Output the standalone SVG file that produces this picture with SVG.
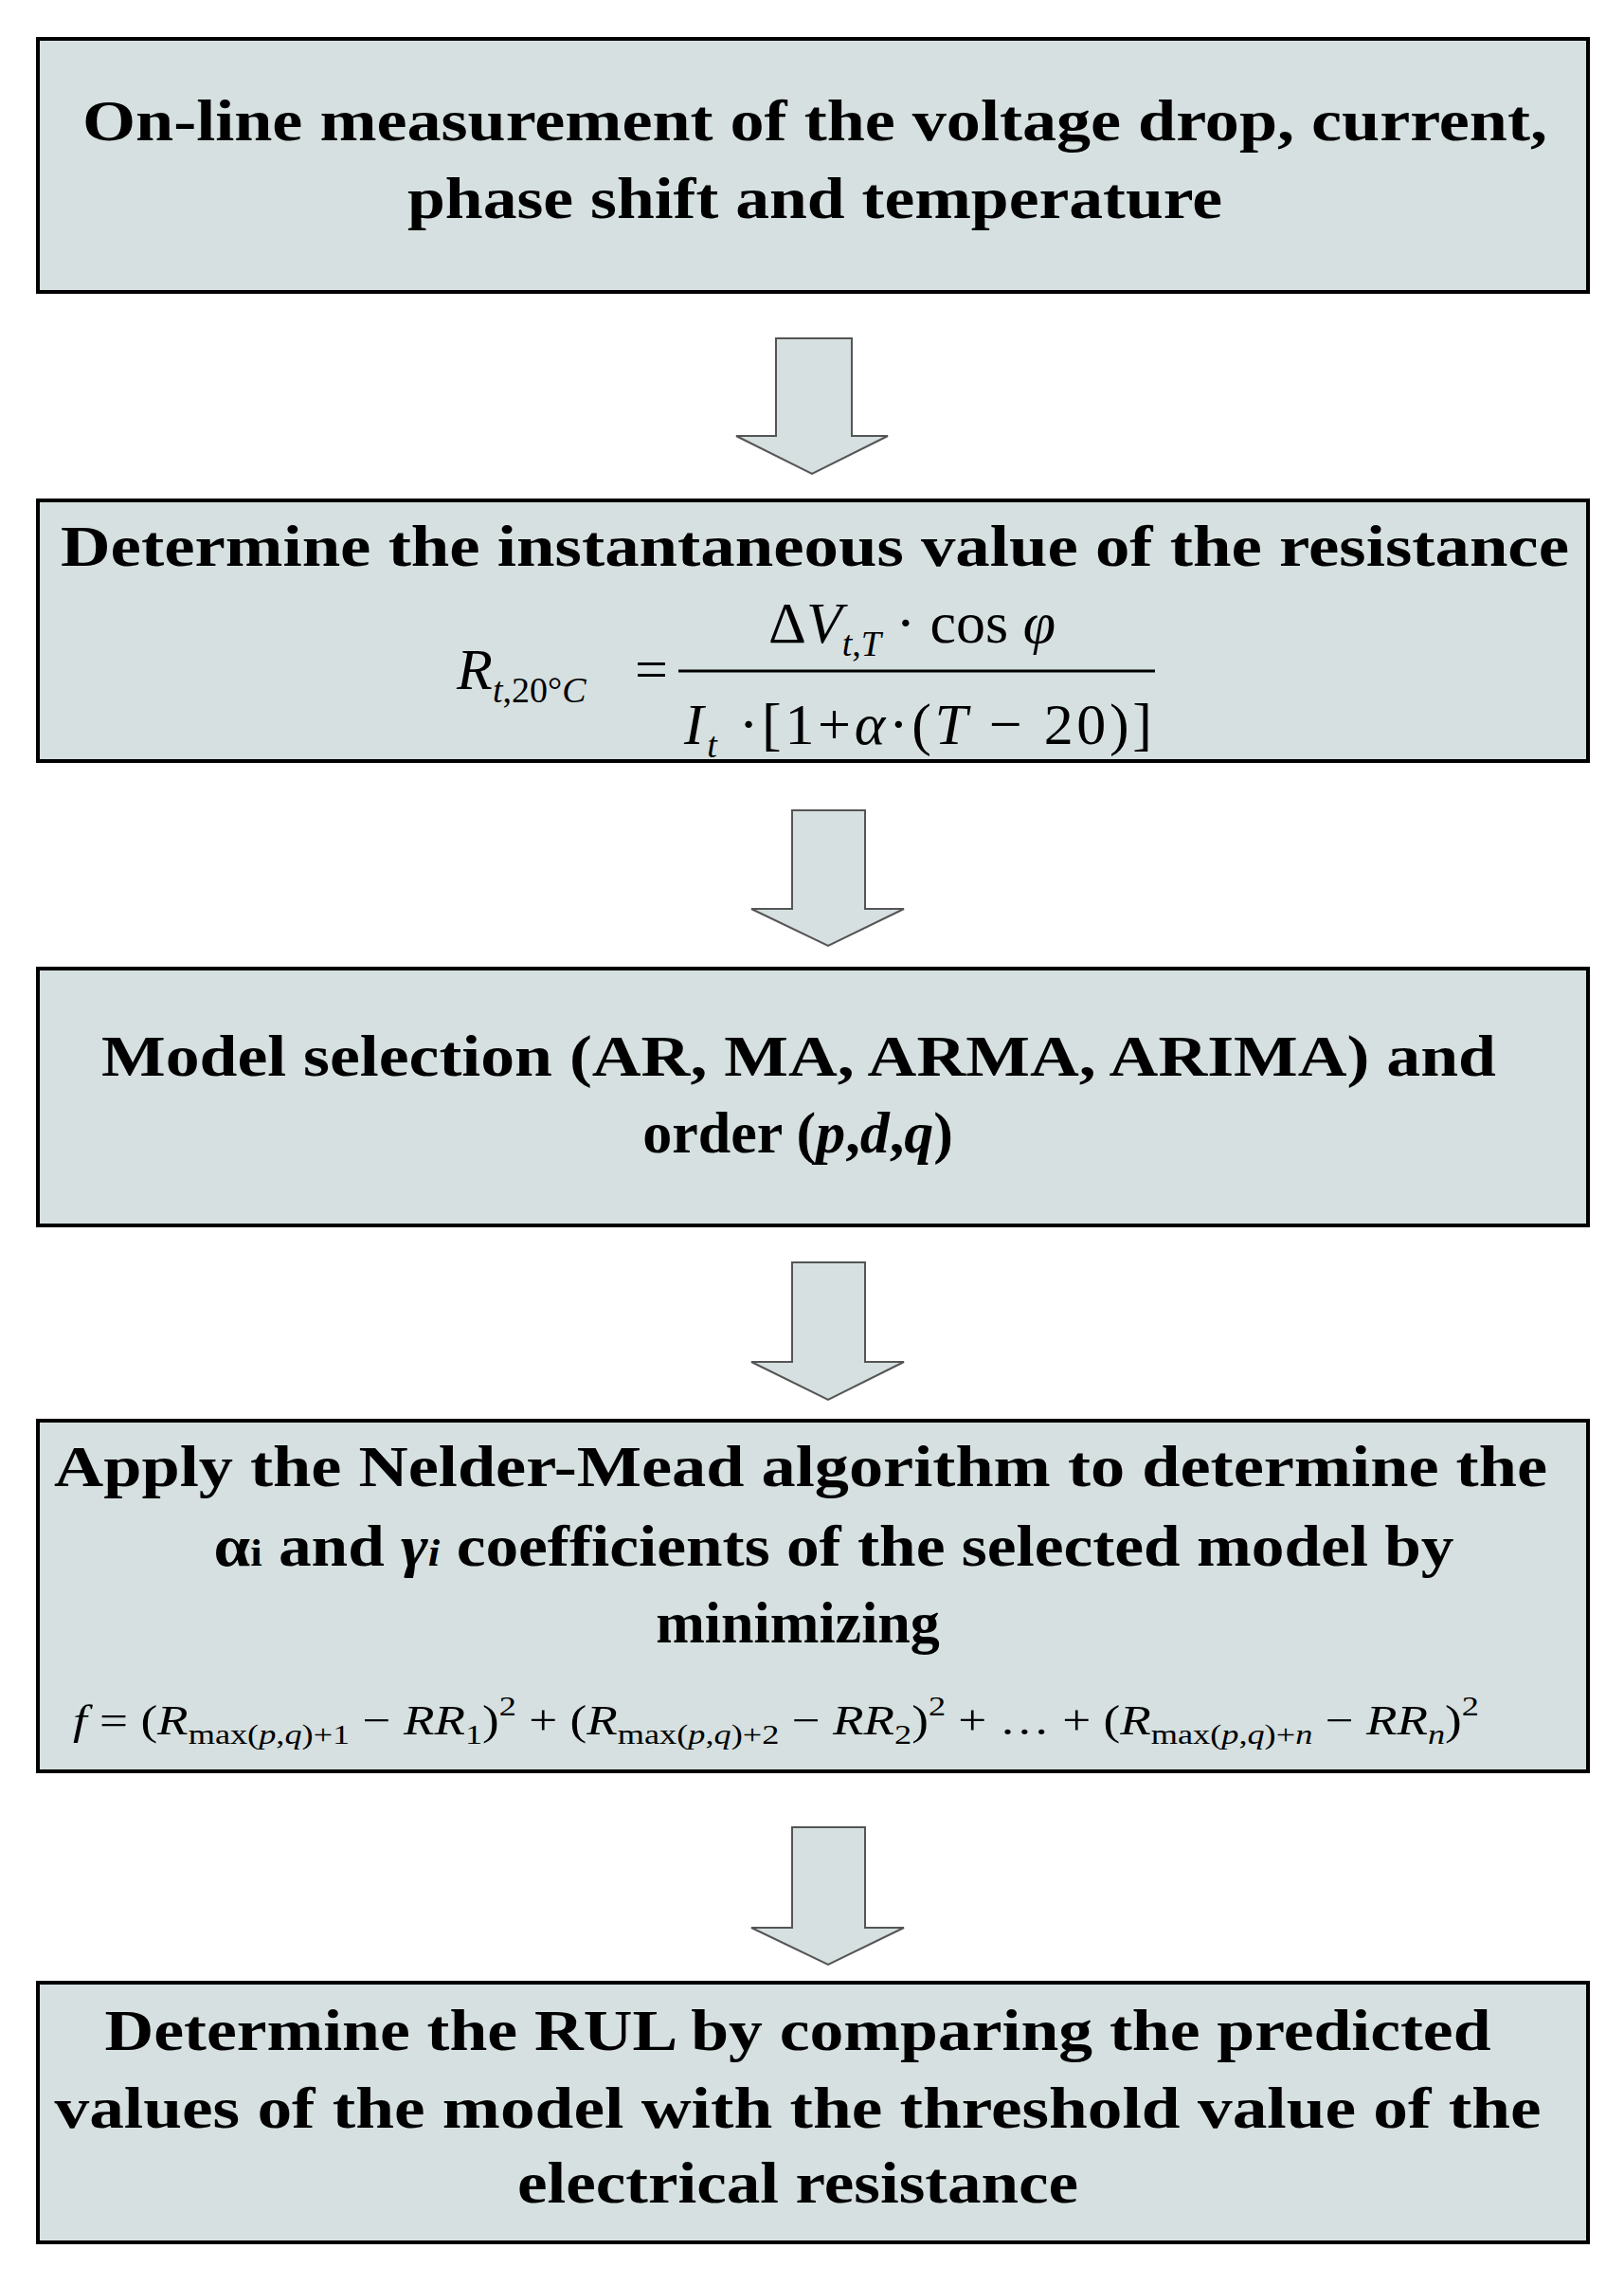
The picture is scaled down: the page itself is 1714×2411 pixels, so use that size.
<svg xmlns="http://www.w3.org/2000/svg" width="1714" height="2411" viewBox="0 0 1714 2411">
<style>
.box{fill:#d6e0e0;stroke:#000;stroke-width:4}
.arr{fill:#d6e0e0;stroke:#555;stroke-width:2}
.t{font-family:"Liberation Serif",serif;font-weight:bold;font-size:62px;text-anchor:middle;fill:#000}
.m{font-family:"Liberation Serif",serif;font-size:62px;fill:#000}
.f{font-family:"Liberation Serif",serif;font-size:44px;fill:#000}
.i{font-style:italic}
</style>
<rect width="1714" height="2411" fill="#fff"/>
<g id="connectors">
<path class="arr" d="M819 357H899V460H937L857 500L777 460H819Z"/>
<path class="arr" d="M836 855H913V959H954L874 998L793 959H836Z"/>
<path class="arr" d="M836 1332H913V1437H954L874 1477L793 1437H836Z"/>
<path class="arr" d="M836 1928H913V2034H954L874 2073L793 2034H836Z"/>
</g>
<g id="n1">
<rect class="box" x="40" y="41" width="1636" height="267"/>
<text class="t" x="860" y="148" textLength="1546" lengthAdjust="spacingAndGlyphs">On-line measurement of the voltage drop, current,</text>
<text class="t" x="860" y="230" textLength="860" lengthAdjust="spacingAndGlyphs">phase shift and temperature</text>
</g>
<g id="n2">
<rect class="box" x="40" y="528" width="1636" height="275"/>
<text class="t" x="860" y="597" textLength="1592" lengthAdjust="spacingAndGlyphs">Determine the instantaneous value of the resistance</text>
<text class="m" x="482" y="727"><tspan class="i">R</tspan><tspan class="i" font-size="38" dy="14">t</tspan><tspan font-size="38">,20°</tspan><tspan class="i" font-size="38">C</tspan></text>
<text class="m" x="670" y="727">=</text>
<line x1="716" y1="708" x2="1219" y2="708" stroke="#000" stroke-width="3"/>
<text class="m" x="811" y="678">Δ<tspan class="i">V</tspan><tspan class="i" font-size="38" dy="14">t</tspan><tspan font-size="38">,</tspan><tspan class="i" font-size="38">T</tspan><tspan dy="-14"> · cos </tspan><tspan class="i">φ</tspan></text>
<text class="m" x="722" y="785" textLength="494" lengthAdjust="spacing"><tspan class="i">I</tspan><tspan class="i" font-size="38" dy="14">t</tspan><tspan dy="-14"> ·[1+</tspan><tspan class="i">α</tspan><tspan>·(</tspan><tspan class="i">T</tspan><tspan> − 20)]</tspan></text>
</g>
<g id="n3">
<rect class="box" x="40" y="1022" width="1636" height="271"/>
<text class="t" x="843" y="1135" textLength="1472" lengthAdjust="spacingAndGlyphs">Model selection (AR, MA, ARMA, ARIMA) and</text>
<text class="t" x="842" y="1216">order (<tspan font-style="italic">p</tspan>,<tspan font-style="italic">d</tspan>,<tspan font-style="italic">q</tspan>)</text>
</g>
<g id="n4">
<rect class="box" x="40" y="1499" width="1636" height="370"/>
<text class="t" x="845" y="1568" textLength="1576" lengthAdjust="spacingAndGlyphs">Apply the Nelder-Mead algorithm to determine the</text>
<text class="t" x="880" y="1652" textLength="1309" lengthAdjust="spacingAndGlyphs">α<tspan font-size="40">i</tspan> and <tspan font-style="italic">γ</tspan><tspan font-size="40" font-style="italic">i</tspan> coefficients of the selected model by</text>
<text class="t" x="842" y="1733">minimizing</text>
<text class="f" x="77" y="1830" textLength="1484" lengthAdjust="spacingAndGlyphs"><tspan class="i">f</tspan> = (<tspan class="i">R</tspan><tspan font-size="30" dy="10">max(</tspan><tspan class="i" font-size="30">p</tspan><tspan font-size="30">,</tspan><tspan class="i" font-size="30">q</tspan><tspan font-size="30">)+1</tspan><tspan dy="-10"> − </tspan><tspan class="i">RR</tspan><tspan font-size="30" dy="10">1</tspan><tspan dy="-10">)</tspan><tspan font-size="30" dy="-20">2</tspan><tspan dy="20"> + (</tspan><tspan class="i">R</tspan><tspan font-size="30" dy="10">max(</tspan><tspan class="i" font-size="30">p</tspan><tspan font-size="30">,</tspan><tspan class="i" font-size="30">q</tspan><tspan font-size="30">)+2</tspan><tspan dy="-10"> − </tspan><tspan class="i">RR</tspan><tspan font-size="30" dy="10">2</tspan><tspan dy="-10">)</tspan><tspan font-size="30" dy="-20">2</tspan><tspan dy="20"> + … + (</tspan><tspan class="i">R</tspan><tspan font-size="30" dy="10">max(</tspan><tspan class="i" font-size="30">p</tspan><tspan font-size="30">,</tspan><tspan class="i" font-size="30">q</tspan><tspan font-size="30">)+</tspan><tspan class="i" font-size="30">n</tspan><tspan dy="-10"> − </tspan><tspan class="i">RR</tspan><tspan class="i" font-size="30" dy="10">n</tspan><tspan dy="-10">)</tspan><tspan font-size="30" dy="-20">2</tspan></text>
</g>
<g id="n5">
<rect class="box" x="40" y="2092" width="1636" height="274"/>
<text class="t" x="842" y="2163" textLength="1463" lengthAdjust="spacingAndGlyphs">Determine the RUL by comparing the predicted</text>
<text class="t" x="842" y="2245" textLength="1569" lengthAdjust="spacingAndGlyphs">values of the model with the threshold value of the</text>
<text class="t" x="842" y="2324" textLength="592" lengthAdjust="spacingAndGlyphs">electrical resistance</text>
</g>
</svg>
